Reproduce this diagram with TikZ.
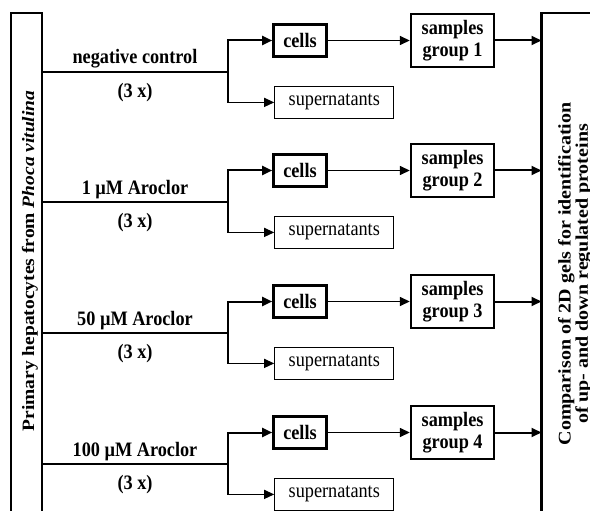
\documentclass[tikz,border=0pt]{standalone}
\usepackage{fontspec}
\setmainfont{Liberation Serif}
\newfontfamily\narrowfont{Liberation Serif}[FakeStretch=0.89]
\usetikzlibrary{arrows.meta,positioning,calc}
\newcommand{\figfont}{\narrowfont\fontsize{20.5}{22}\selectfont}
\tikzset{
  basebox/.style={rectangle,draw=black,align=center,inner sep=0pt,font=\figfont},
  cellnode/.style={basebox,line width=2.6pt,minimum width=53pt,minimum height=32pt,
                   font={\figfont\bfseries}},
  samplenode/.style={basebox,line width=2.6pt,minimum width=83pt,minimum height=53pt,
                     font={\figfont\bfseries}},
  supnode/.style={basebox,line width=1.2pt,minimum width=119pt,minimum height=32pt},
  sidebox/.style={rectangle,draw=black,line width=2.2pt,outer sep=0pt,
                  minimum height=505pt,anchor=north west},
  sidetext/.style={align=center,inner sep=0pt,xscale=0.89,rotate=90},
  doselabel/.style={font={\figfont\bfseries},inner sep=2pt},
  mainline/.style={line width=2pt},
  arr/.style={-{Triangle[length=10pt,width=9pt]},line width=2pt},
  thinarr/.style={-{Triangle[length=10pt,width=9pt]},line width=1.2pt}
}

\begin{document}
\begin{tikzpicture}[x=1pt,y=-1pt]
  \useasboundingbox (0,0) rectangle (590,511);

  % Side boxes
  \node[sidebox,minimum width=31pt] (src) at (11,13) {};
  \node[sidetext,font={\bfseries\fontsize{19.5}{19.5}\selectfont}] (srctxt) at (30,261)
      {Primary hepatocytes from \textit{Phoca vitulina}};
  \node[sidebox,minimum width=70pt] (cmp) at (541.5,13) {};
  \node[sidetext,font={\bfseries\fontsize{20}{14.6}\selectfont}] (cmptxt) at (575,274)
      {Comparison of 2D gels for identification\\of up- and down regulated proteins};

  % Group 1
  \coordinate (b1) at (228,72);
  \node[cellnode] (c1) at (300,40.5) {cells};
  \node[samplenode,right=82pt of c1] (s1) {samples\\group 1};
  \node[supnode,below right=28pt and 2pt of c1.south west] (p1) {supernatants};

  % Group 2
  \coordinate (b2) at (228,202);
  \node[cellnode] (c2) at (300,170.5) {cells};
  \node[samplenode,right=82pt of c2] (s2) {samples\\group 2};
  \node[supnode,below right=28pt and 2pt of c2.south west] (p2) {supernatants};

  % Group 3
  \coordinate (b3) at (228,333);
  \node[cellnode] (c3) at (300,301.5) {cells};
  \node[samplenode,right=82pt of c3] (s3) {samples\\group 3};
  \node[supnode,below right=28pt and 2pt of c3.south west] (p3) {supernatants};

  % Group 4
  \coordinate (b4) at (228,464);
  \node[cellnode] (c4) at (300,432.5) {cells};
  \node[samplenode,right=82pt of c4] (s4) {samples\\group 4};
  \node[supnode,below right=28pt and 2pt of c4.south west] (p4) {supernatants};

  % Treatments
  \draw[mainline] (src.east |- b1) -- node[doselabel,above=0.5pt]{negative control}
      node[doselabel,below=8pt]{(3 x)} (b1);
  \draw[mainline] (src.east |- b2) -- node[doselabel,above=0.5pt]{1 µM Aroclor}
      node[doselabel,below=8pt]{(3 x)} (b2);
  \draw[mainline] (src.east |- b3) -- node[doselabel,above=0.5pt]{50 µM Aroclor}
      node[doselabel,below=8pt]{(3 x)} (b3);
  \draw[mainline] (src.east |- b4) -- node[doselabel,above=0.5pt]{100 µM Aroclor}
      node[doselabel,below=8pt]{(3 x)} (b4);

  % Branches
  \draw[arr] (b1) |- (c1.west);
  \draw[thinarr] (b1) |- (p1.west);
  \draw[arr] (b2) |- (c2.west);
  \draw[thinarr] (b2) |- (p2.west);
  \draw[arr] (b3) |- (c3.west);
  \draw[thinarr] (b3) |- (p3.west);
  \draw[arr] (b4) |- (c4.west);
  \draw[thinarr] (b4) |- (p4.west);

  % To the comparison
  \draw[thinarr,line width=1.5pt] (c1.east) -- (s1.west);
  \draw[thinarr,line width=1.5pt] (c2.east) -- (s2.west);
  \draw[thinarr,line width=1.5pt] (c3.east) -- (s3.west);
  \draw[thinarr,line width=1.5pt] (c4.east) -- (s4.west);
  \draw[arr] (s1.east) -- (s1.east -| cmp.west);
  \draw[arr] (s2.east) -- (s2.east -| cmp.west);
  \draw[arr] (s3.east) -- (s3.east -| cmp.west);
  \draw[arr] (s4.east) -- (s4.east -| cmp.west);

\end{tikzpicture}
\end{document}
